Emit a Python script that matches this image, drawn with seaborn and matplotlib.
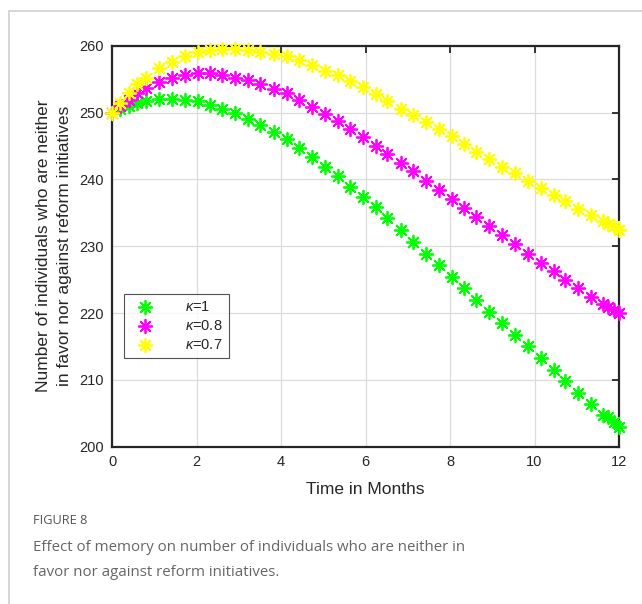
import matplotlib
matplotlib.use("Agg")
import matplotlib.pyplot as plt
from matplotlib.lines import Line2D
import seaborn as sns
import pandas as pd

# ---- data ----
t_months = [0.0, 0.19, 0.39, 0.6, 0.8, 1.12, 1.43, 1.73, 2.03, 2.32, 2.61, 2.91,
            3.21, 3.51, 3.83, 4.13, 4.43, 4.73, 5.03, 5.34, 5.64, 5.93, 6.24,
            6.52, 6.83, 7.12, 7.42, 7.73, 8.05, 8.33, 8.62, 8.92, 9.22, 9.54,
            9.84, 10.15, 10.45, 10.72, 11.02, 11.33, 11.63, 11.75, 11.87, 12.0]

kappa_1 = [250.0, 250.6, 251.0, 251.5, 251.7, 252.0, 252.0, 251.9, 251.7, 251.2,
           250.6, 250.0, 249.1, 248.2, 247.1, 246.0, 244.7, 243.3, 241.9, 240.5,
           238.9, 237.4, 235.8, 234.2, 232.5, 230.7, 228.9, 227.2, 225.4, 223.7,
           221.9, 220.2, 218.5, 216.7, 215.0, 213.2, 211.5, 209.8, 208.1, 206.4,
           204.8, 204.4, 203.7, 203.0]

kappa_08 = [250.0, 251.0, 251.9, 252.9, 253.6, 254.5, 255.2, 255.6, 255.9, 255.9,
            255.6, 255.2, 254.9, 254.2, 253.5, 252.9, 251.9, 250.9, 249.8, 248.7,
            247.5, 246.4, 245.0, 243.8, 242.5, 241.2, 239.8, 238.4, 237.0, 235.7,
            234.3, 233.0, 231.7, 230.3, 228.8, 227.5, 226.3, 224.9, 223.7, 222.4,
            221.3, 220.9, 220.5, 220.0]

kappa_07 = [250.0, 251.5, 253.0, 254.3, 255.2, 256.6, 257.6, 258.4, 259.0, 259.4,
            259.5, 259.5, 259.4, 259.1, 258.8, 258.4, 257.8, 257.1, 256.2, 255.6,
            254.7, 253.8, 252.8, 251.7, 250.6, 249.6, 248.6, 247.5, 246.5, 245.3,
            244.1, 243.0, 241.9, 240.9, 239.8, 238.7, 237.7, 236.7, 235.6, 234.7,
            233.7, 233.3, 233.0, 232.5]

series_labels = [r"$\kappa$=1", r"$\kappa$=0.8", r"$\kappa$=0.7"]
series_colors = ["#00FF00", "#FF00FF", "#FFFF00"]
x_ticks = [0, 2, 4, 6, 8, 10, 12]
y_ticks = [200, 210, 220, 230, 240, 250, 260]

x_label = "Time in Months"
y_label = "Number of individuals who are neither\nin favor nor against reform initiatives"
fig_tag = "FIGURE 8"
caption = ("Effect of memory on number of individuals who are neither in\n"
           "favor nor against reform initiatives.")

# ---- build long table ----
frames = []
for lab, vals in zip(series_labels, [kappa_1, kappa_08, kappa_07]):
    frames.append(pd.DataFrame({"t": t_months, "v": vals, "k": lab}))
df = pd.concat(frames, ignore_index=True)

sns.set_style("white")
plt.rcParams["font.family"] = ["Liberation Sans", "DejaVu Sans"]
plt.rcParams["mathtext.fontset"] = "custom"
plt.rcParams["mathtext.it"] = "Liberation Sans:italic"
plt.rcParams["mathtext.rm"] = "Liberation Sans"

fig = plt.figure(figsize=(6.42, 6.04), dpi=100)
ax = fig.add_axes([0.1745, 0.2604, 0.7897, 0.6639])

star = (8, 2, 0)
for lab, col in zip(series_labels, series_colors):
    sub = df[df["k"] == lab]
    sns.scatterplot(data=sub, x="t", y="v", ax=ax, color=col, marker=star,
                    s=95, linewidth=1.3, edgecolor=col, label=lab, zorder=3,
                    clip_on=False)

ax.set_xlim(0, 12)
ax.set_ylim(200, 260)
ax.set_xticks(x_ticks)
ax.set_yticks(y_ticks)
ax.tick_params(direction="in", length=5, width=1.3, top=True, right=True,
               labelsize=10.5, colors="#262626", pad=6)
ax.grid(True, color="#dcdcdc", linewidth=0.9)
ax.set_axisbelow(True)
for sp in ax.spines.values():
    sp.set_visible(True)
    sp.set_color("#262626")
    sp.set_linewidth(1.6)

ax.set_xlabel(x_label, fontsize=12.5, color="#262626", labelpad=9)
ax.set_ylabel(y_label, fontsize=12.5, color="#262626", labelpad=5,
              linespacing=1.55)

leg = ax.legend(loc="lower left", bbox_to_anchor=(0.024, 0.221),
                borderaxespad=0, fontsize=10.5, frameon=True, fancybox=False,
                edgecolor="#262626", handlelength=2.0, handletextpad=1.8,
                borderpad=0.4, labelspacing=0.35, markerscale=1.0)
leg.get_frame().set_linewidth(0.8)
leg.get_frame().set_facecolor("white")
for txt in leg.get_texts():
    txt.set_color("#262626")

# page frame
fig.add_artist(Line2D([9 / 642, 9 / 642], [0, 1 - 11 / 604],
                      transform=fig.transFigure, color="#cfcfcf", lw=1.2))
fig.add_artist(Line2D([9 / 642, 1], [1 - 11 / 604, 1 - 11 / 604],
                      transform=fig.transFigure, color="#cfcfcf", lw=1.2))

fig.text(33 / 642, 1 - 521 / 604, fig_tag, fontsize=9.2, color="#555555",
         family=["Open Sans", "DejaVu Sans"], va="center", ha="left")
fig.text(33 / 642, 1 - 560 / 604, caption, fontsize=10.8, color="#666666",
         family=["Open Sans", "DejaVu Sans"], va="center", ha="left",
         linespacing=1.85)

fig.savefig("out.png", dpi=100)
